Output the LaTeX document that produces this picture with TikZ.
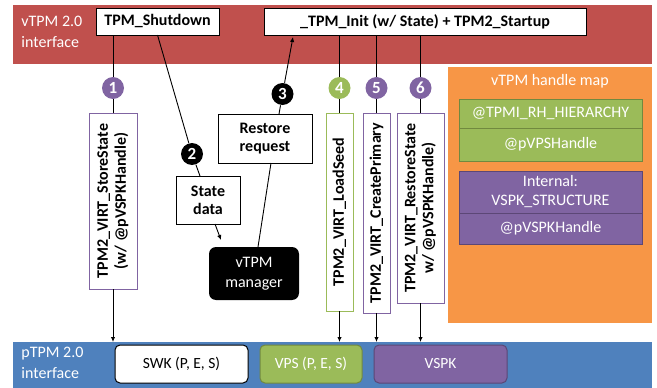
\documentclass[tikz,border=0pt]{standalone}
\usepackage{fontspec}
\setmainfont{Carlito}
\usetikzlibrary{arrows.meta}

\definecolor{vred}{HTML}{C0504D}
\definecolor{pblue}{HTML}{4F81BD}
\definecolor{hmorange}{HTML}{F79646}
\definecolor{vgreen}{HTML}{9BBB59}
\definecolor{vgreendark}{HTML}{71893F}
\definecolor{vpurple}{HTML}{8064A2}
\definecolor{vpurpledark}{HTML}{5C4776}

\begin{document}
\begin{tikzpicture}
  [x=1pt, y=-1pt, line width=0.9pt,
band/.style={inner sep=0pt, outer sep=0pt},
cmd/.style={draw=black, line width=1pt, fill=white, inner sep=0pt, outer sep=0pt, align=center,
  font=\fontsize{16}{18}\selectfont\bfseries},
vcmd/.style={draw=vpurple, line width=0.8pt, fill=white, rotate=90, inner sep=0pt, outer sep=0pt,
  align=center, font=\fontsize{16}{18}\selectfont\bfseries},
stepdot/.style={circle, fill=#1, text=white, minimum size=22pt, inner sep=0pt,
  font=\fontsize{17}{17}\selectfont\bfseries},
entry/.style={draw=#1dark, line width=0.8pt, fill=#1, text=white, minimum width=183pt, inner sep=0pt,
  outer sep=0pt, align=center, font=\fontsize{16}{19}\selectfont},
key/.style={draw=#1dark, line width=1pt, fill=#1, text=white, rounded corners=5pt, minimum height=38pt,
  inner sep=0pt, outer sep=0pt, font=\fontsize{15.5}{17}\selectfont},
arr/.style={-{Latex[length=5pt,width=4.5pt]}},
bandtext/.style={text=white, align=left, anchor=north west, inner sep=0pt,
  font=\fontsize{16}{21}\selectfont}]

\useasboundingbox[fill=white] (0,0) rectangle (657,388);

% interfaces
\node (vtpm) [band, fill=vred, minimum width=639pt, minimum height=59pt] at (332.5,34.5) {};
\node (ptpm) [band, fill=pblue, minimum width=639pt, minimum height=46pt] at (332.5,365) {};
\node [bandtext] at (21,16) {vTPM 2.0\\interface};
\node [bandtext] at (21,347) {pTPM 2.0\\interface};

\node (shut) [cmd, minimum width=123pt, minimum height=27pt] at (157.5,21.5) {TPM\_Shutdown};
\node (init) [cmd, minimum width=322pt, minimum height=27pt] at (425,21.5)
  {\_TPM\_Init (w/ State) + TPM2\_Startup};

% handle map
\node (map) [band, fill=hmorange, minimum width=204pt, minimum height=256pt] at (550,195) {};
\node [text=white, font=\fontsize{16}{18}\selectfont] at (550,81) {vTPM handle map};
\node (hier) [entry=vgreen, minimum height=29pt] at (550.5,113.5) {@TPMI\_RH\_HIERARCHY};
\node (vps) [entry=vgreen, minimum height=33pt] at (550.5,144.5) {@pVPSHandle};
\node (int) [entry=vpurple, minimum height=42pt] at (550.5,192) {Internal:\\VSPK\_STRUCTURE};
\node (vspkh) [entry=vpurple, minimum height=31pt] at (550.5,228.5) {@pVSPKHandle};

% keys
\node (swk) [key=vpurple, draw=black, fill=white, text=black, minimum width=133pt]
  at (181.5,364) {SWK (P, E, S)};
\node (vpsk) [key=vgreen, minimum width=102pt] at (311,364) {VPS (P, E, S)};
\node (vspk) [key=vpurple, minimum width=133pt] at (440.5,364) {VSPK};

% manager side
\node (state) [cmd, minimum width=64pt, minimum height=48pt] at (208,200) {State\\data};
\node (restore) [cmd, minimum width=94pt, minimum height=49pt] at (265,138.5) {Restore\\request};
\node (mgr) [fill=black, text=white, rounded corners=7pt, minimum width=90pt, minimum height=53pt,
  inner sep=0pt, outer sep=0pt, align=center, font=\fontsize{16}{20}\selectfont]
  at (254,273.5) {vTPM\\manager};

% virtual commands
\node (b1) [vcmd, minimum width=176pt, minimum height=48pt] at (113,201)
  {TPM2\_VIRT\_StoreState\\(w/ @pVSPKHandle)};
\node (b4) [vcmd, draw=vgreen, minimum width=198pt, minimum height=27pt] at (339.5,212)
  {TPM2\_VIRT\_LoadSeed};
\node (b5) [vcmd, minimum width=200pt, minimum height=27pt] at (376.5,213)
  {TPM2\_VIRT\_CreatePrimary};
\node (b6) [vcmd, minimum width=190pt, minimum height=47pt] at (420.5,208)
  {TPM2\_VIRT\_RestoreState\\w/ @pVSPKHandle)};

% steps
\node (c1) [stepdot=vpurple] at (113,88) {1};
\node (c2) [stepdot=black] at (192,154) {2};
\node (c3) [stepdot=black] at (282.5,94) {3};
\node (c4) [stepdot=vgreen] at (339.5,88) {4};
\node (c5) [stepdot=vpurple] at (376.5,88) {5};
\node (c6) [stepdot=vpurple] at (420.5,88) {6};

\draw (b1.east |- shut.south) -- (c1) -- (b1.east);
\draw [arr] (b1.west) -- (b1.west |- ptpm.north);

\draw (shut.south) -- (c2) -- ([xshift=-8pt]state.north);
\draw [arr] ([xshift=7pt]state.south) -- ([xshift=-33pt,yshift=7pt]mgr.north);
\draw ([xshift=4pt]mgr.north) -- ([xshift=6pt]restore.south);
\draw [arr] ([xshift=14pt]restore.north) -- (c3) -- ([xshift=-132pt,yshift=-2pt]init.south);

\draw (b4.east |- init.south) -- (c4) -- (b4.east);
\draw [arr] (b4.west) -- (b4.west |- ptpm.north);
\draw (b5.east |- init.south) -- (c5) -- (b5.east);
\draw [arr] (b5.west) -- (b5.west |- ptpm.north);
\draw (b6.east |- init.south) -- (c6) -- (b6.east);
\draw [arr] (b6.west) -- (b6.west |- ptpm.north);

\end{tikzpicture}
\end{document}
